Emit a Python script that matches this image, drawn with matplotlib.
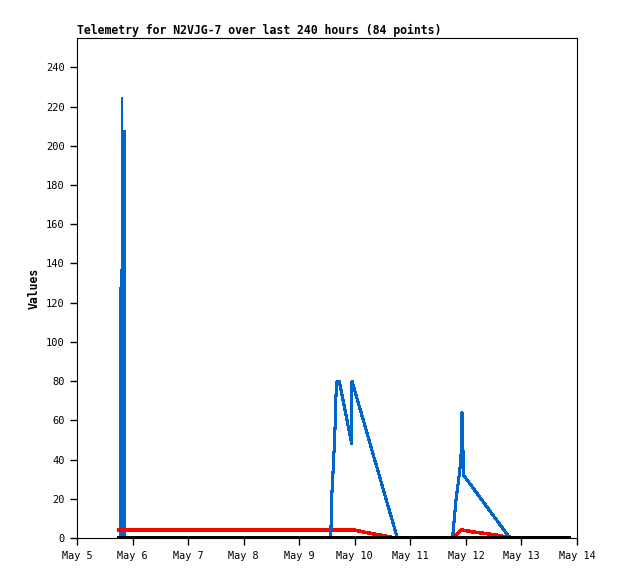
import matplotlib
matplotlib.use("Agg")
import matplotlib.pyplot as plt

# time in days after May 5 00:00
# dense burst of readings just before May 6 (drawn as a solid block)
burst_t = [0.756, 0.774, 0.792, 0.822, 0.882]
burst_v = [128, 137, 225, 208, 208]

blue_t = [0.882, 4.566, 4.59, 4.62, 4.644, 4.66, 4.68,
          4.72, 4.944, 4.95, 5.765, 6.76, 6.82, 6.87, 6.911, 6.92, 6.93,
          6.94, 6.95, 6.96, 7.79, 8.83]
blue_v = [0, 0, 24, 40, 56, 72, 80,
          80, 48, 80, 0, 0, 19, 30, 40, 56, 64,
          56, 40, 32, 0, 0]

red_t = [0.756, 5.0, 5.15, 5.3, 5.5, 5.72, 6.76, 6.91, 6.95, 7.1, 7.3, 7.55, 7.76, 8.83]
red_v = [4, 4, 3.1, 2.3, 1.3, 0, 0, 4, 4, 3.2, 2.5, 1.5, 0.4, 0]

zero_t = [0.75, 8.83]
zero_v = [0, 0]

day_ticks = list(range(10))
day_labels = ["May 5", "May 6", "May 7", "May 8", "May 9", "May 10",
              "May 11", "May 12", "May 13", "May 14"]
y_ticks = list(range(0, 241, 20))

plt.rcParams['font.family'] = 'DejaVu Sans Mono'
plt.rcParams['font.size'] = 7.5

fig = plt.figure(figsize=(6.18, 5.79), dpi=100)
ax = fig.add_axes([0.1246, 0.0708, 0.8091, 0.8636])

ax.fill_between(burst_t, burst_v, 0, step='post', color='#0066cc',
                linewidth=0, antialiased=False)
ax.plot(red_t, red_v, color='#ff0000', linewidth=1.8, antialiased=False)
ax.plot(blue_t, blue_v, color='#0066cc', linewidth=1.5, antialiased=False)
ax.plot(zero_t, zero_v, color='black', linewidth=2.2, antialiased=False)

ax.set_xlim(0, 9)
ax.set_ylim(0, 255)
ax.set_xticks(day_ticks)
ax.set_xticklabels(day_labels, fontsize=7.3)
ax.set_yticks(y_ticks)
ax.tick_params(direction='out', length=5, width=1, pad=4)
for s in ax.spines.values():
    s.set_linewidth(0.8)

ax.set_ylabel('Values', fontweight='bold', fontsize=8.3)
ax.set_title('Telemetry for N2VJG-7 over last 240 hours (84 points)',
             loc='left', fontweight='bold', fontsize=8.3, pad=3)

fig.savefig('out.png', dpi=100)
